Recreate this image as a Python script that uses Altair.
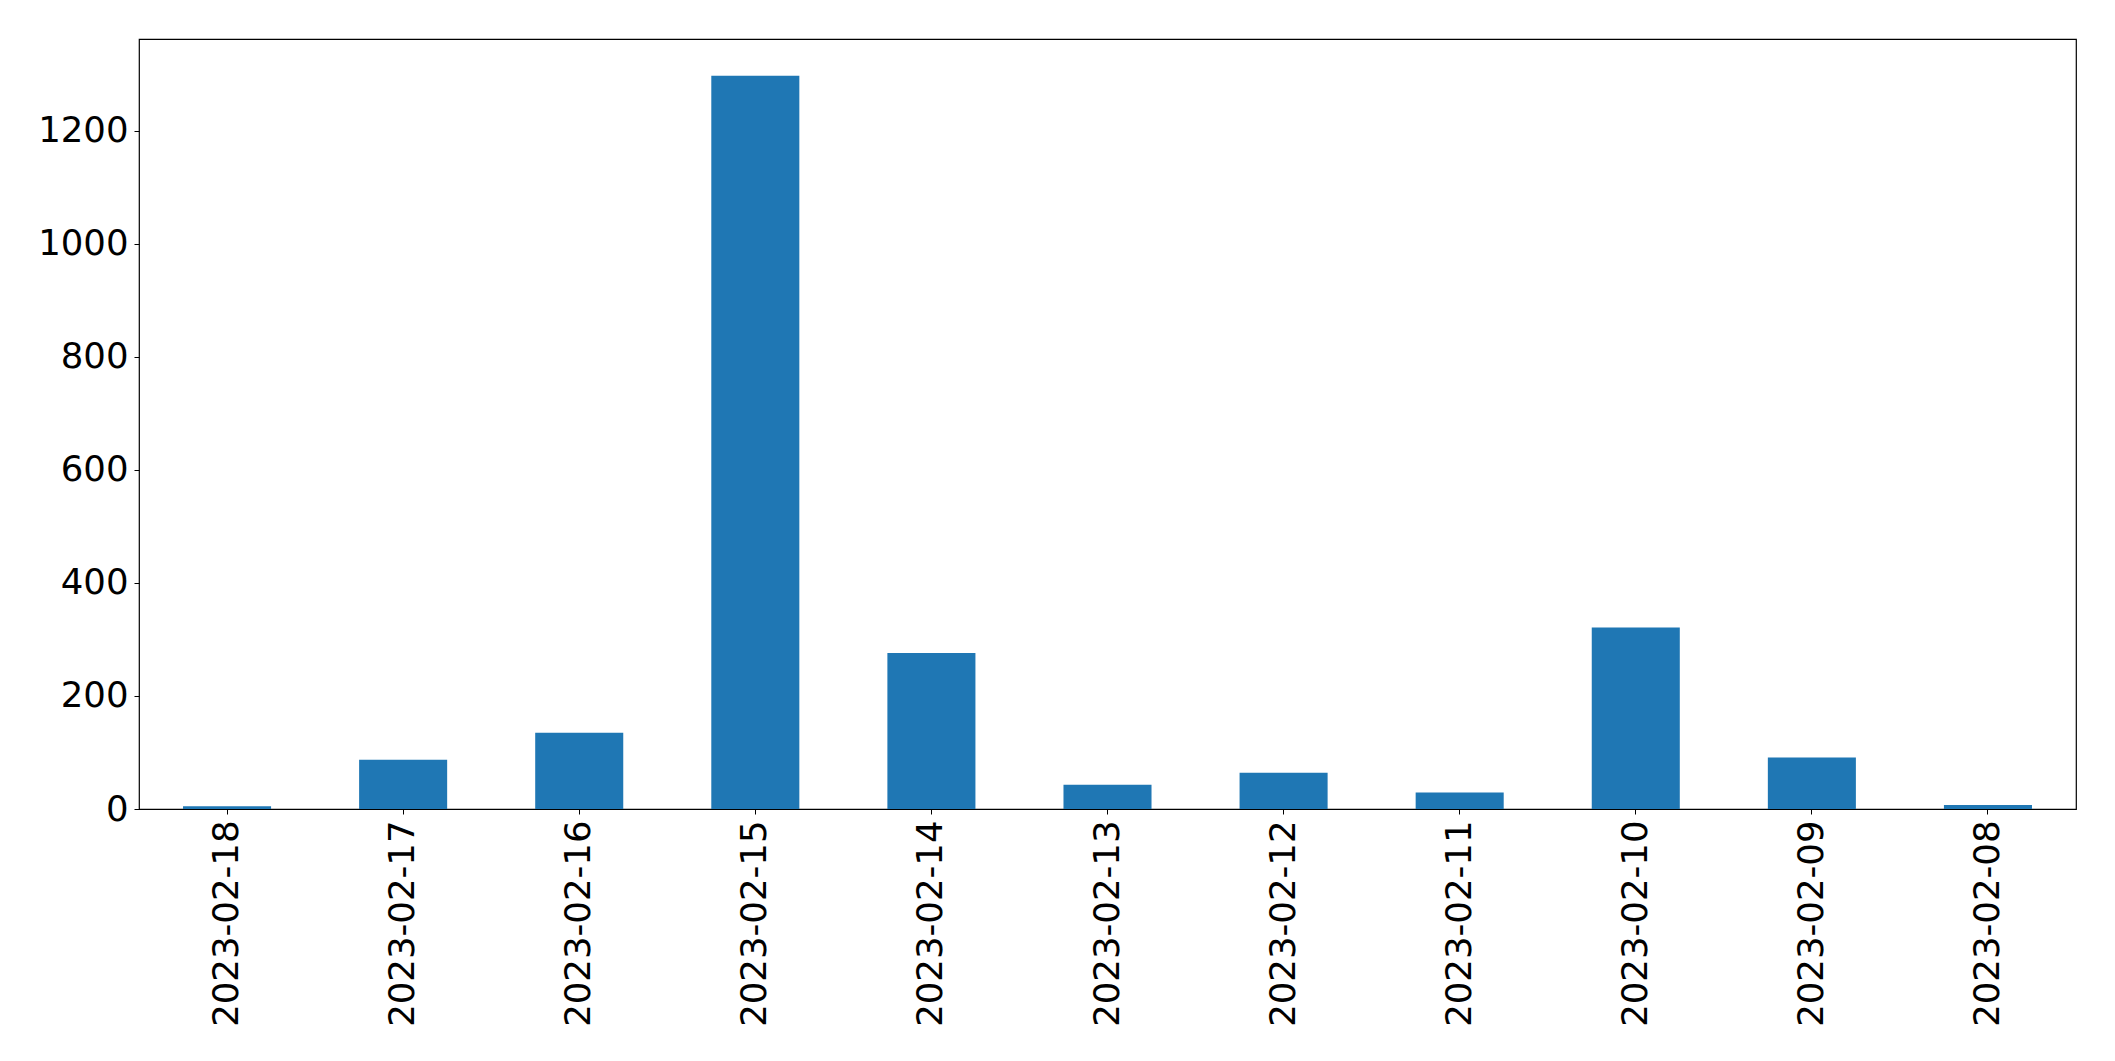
import altair as alt
import pandas as pd

dates = ["2023-02-18", "2023-02-17", "2023-02-16", "2023-02-15", "2023-02-14",
         "2023-02-13", "2023-02-12", "2023-02-11", "2023-02-10", "2023-02-09", "2023-02-08"]
counts = [5, 87, 135, 1297, 276, 43, 64, 29, 321, 91, 7]
y_ticks = [0, 200, 400, 600, 800, 1000, 1200]

df = pd.DataFrame({"date": dates, "count": counts})

chart = alt.Chart(df).mark_bar(color="#1f77b4").encode(
    x=alt.X("date:N", sort=dates, title=None,
            scale=alt.Scale(paddingInner=0.5, paddingOuter=0.25),
            axis=alt.Axis(labelAngle=270, labelFont="DejaVu Sans", labelFontSize=35.5,
                          labelColor="black", tickColor="black", tickSize=5, tickWidth=1,
                          labelPadding=6, labelLimit=0, domain=False, grid=False)),
    y=alt.Y("count:Q", title=None,
            scale=alt.Scale(domain=[0, 1362], nice=False),
            axis=alt.Axis(values=y_ticks, format="d", labelFont="DejaVu Sans", labelFontSize=35.5,
                          labelColor="black", tickColor="black", tickSize=5, tickWidth=1,
                          labelPadding=6, labelLimit=0, domain=False, grid=False)),
).properties(
    width=1937, height=770,
    autosize=alt.AutoSizeParams(type="none"),
    padding={"left": 131, "top": 31, "right": 31, "bottom": 250},
).configure_view(stroke="black", strokeWidth=1.2)

chart.save("out.html", embed_options={"renderer": "svg", "actions": False})
